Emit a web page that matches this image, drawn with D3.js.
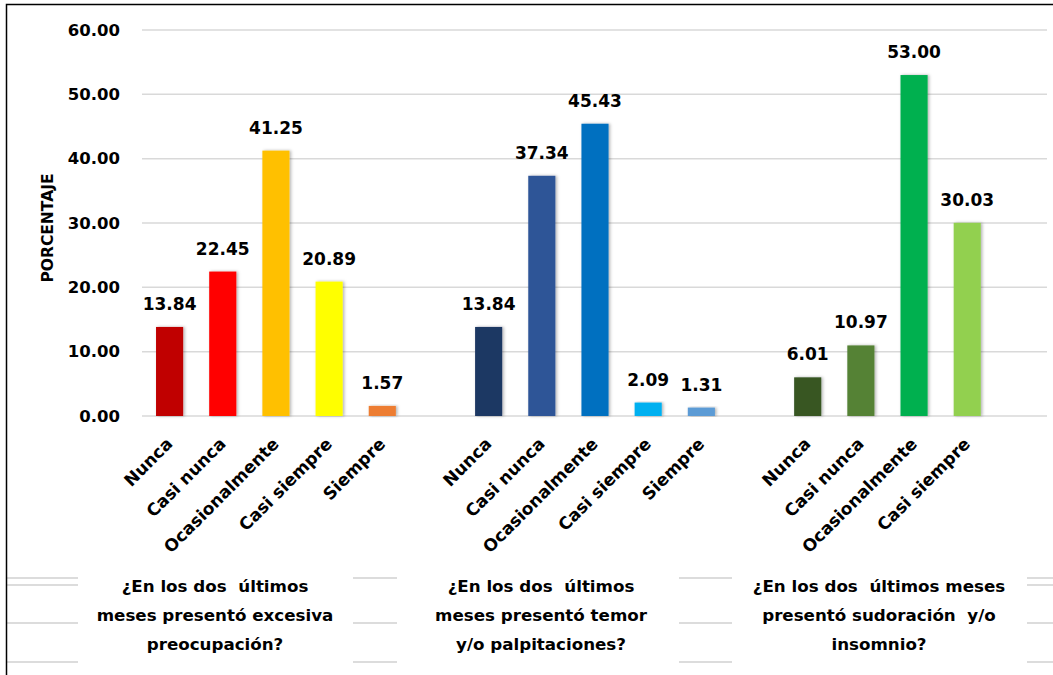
<!DOCTYPE html>
<head>
<meta charset="utf-8">
<script src="https://d3js.org/d3.v7.min.js"></script>
<style type="text/css">
	body { margin: 0; background: #fff; }
	svg { display: block; }
	text { font-family: "DejaVu Sans", sans-serif; font-weight: bold; fill: #000; }
</style>
</head>
<body>
<div id="chart"></div>
</body>
<script>

	var width = 1053;
	var height = 675;

	// data
	var answers1 = ["Nunca", "Casi nunca", "Ocasionalmente", "Casi siempre", "Siempre"];
	var values1 = [13.84, 22.45, 41.25, 20.89, 1.57];
	var colors1 = ["#C00000", "#FF0000", "#FFC000", "#FFFF00", "#ED7D31"];

	var answers2 = ["Nunca", "Casi nunca", "Ocasionalmente", "Casi siempre", "Siempre"];
	var values2 = [13.84, 37.34, 45.43, 2.09, 1.31];
	var colors2 = ["#1F3864", "#2F5597", "#0070C0", "#00B0F0", "#5B9BD5"];

	var answers3 = ["Nunca", "Casi nunca", "Ocasionalmente", "Casi siempre"];
	var values3 = [6.01, 10.97, 53.00, 30.03];
	var colors3 = ["#375623", "#548235", "#00B050", "#92D050"];

	var questions = [
		["¿En los dos  últimos", "meses presentó excesiva", "preocupación?"],
		["¿En los dos  últimos", "meses presentó temor", "y/o palpitaciones?"],
		["¿En los dos  últimos meses", "presentó sudoración  y/o", "insomnio?"]
	];
	var yTicks = [0, 10, 20, 30, 40, 50, 60];
	var yTitle = "PORCENTAJE";

	// build slots: each group, then an empty slot
	var groups = [
		{ answers: answers1, values: values1, colors: colors1 },
		{ answers: answers2, values: values2, colors: colors2 },
		{ answers: answers3, values: values3, colors: colors3 }
	];
	var slots = [];
	var bars = [];
	groups.forEach(function(g, gi) {
		g.answers.forEach(function(a, i) {
			var key = gi + "-" + i;
			slots.push(key);
			bars.push({ key: key, label: a, value: g.values[i], color: g.colors[i] });
		});
		slots.push("gap-" + gi);
	});

	var svg = d3.select("#chart").append("svg")
		.attr("width", width)
		.attr("height", height);

	var defs = svg.append("defs");
	var f = defs.append("filter").attr("id", "shadow")
		.attr("x", "-30%").attr("y", "-10%").attr("width", "160%").attr("height", "120%");
	f.append("feDropShadow").attr("dx", 1.5).attr("dy", 0).attr("stdDeviation", 1.5)
		.attr("flood-color", "#000").attr("flood-opacity", 0.3);

	var x = d3.scaleBand()
		.domain(slots)
		.range([143, 1047])
		.paddingInner(0.49)
		.paddingOuter(0.245);

	var y = d3.scaleLinear()
		.domain([0, 60])
		.range([416, 30]);

	// gridlines
	svg.append("g")
		.selectAll("line")
		.data(yTicks)
		.enter().append("line")
		.attr("x1", 142)
		.attr("x2", 1047)
		.attr("y1", d => y(d))
		.attr("y2", d => y(d))
		.attr("stroke", "#d9d9d9")
		.attr("stroke-width", 1.5);

	// y axis labels
	var yAxis = svg.append("g")
		.attr("transform", "translate(128,0)")
		.call(d3.axisLeft(y).tickValues(yTicks).tickSize(0).tickPadding(8).tickFormat(d3.format(".2f")));
	yAxis.select(".domain").remove();
	yAxis.selectAll("text")
		.style("font-family", "DejaVu Sans")
		.style("font-weight", "bold")
		.style("font-size", "16.5px")
		.attr("fill", "#000");

	svg.append("text")
		.attr("transform", "translate(53,228) rotate(-90)")
		.attr("text-anchor", "middle")
		.style("font-size", "15.5px")
		.text(yTitle);

	// bars
	svg.append("g")
		.selectAll("rect")
		.data(bars)
		.enter().append("rect")
		.attr("x", d => x(d.key))
		.attr("width", x.bandwidth())
		.attr("y", d => y(d.value))
		.attr("height", d => y(0) - y(d.value))
		.attr("fill", d => d.color)
		.attr("filter", "url(#shadow)");

	// value labels
	svg.append("g")
		.selectAll("text")
		.data(bars)
		.enter().append("text")
		.attr("x", d => x(d.key) + x.bandwidth() / 2)
		.attr("y", d => y(d.value) - 17)
		.attr("text-anchor", "middle")
		.style("font-size", "17px")
		.text(d => d.value.toFixed(2));

	// category labels
	svg.append("g")
		.selectAll("text")
		.data(bars)
		.enter().append("text")
		.attr("transform", d => "translate(" + (x(d.key) + x.bandwidth() / 2 + 4) + ",445) rotate(-45)")
		.attr("text-anchor", "end")
		.style("font-size", "17px")
		.text(d => d.label);

	// question labels
	var qx = [215, 541, 879];
	questions.forEach(function(lines, qi) {
		svg.append("text")
			.attr("text-anchor", "middle")
			.style("font-size", "16.7px")
			.style("white-space", "pre")
			.selectAll("tspan")
			.data(lines)
			.enter().append("tspan")
			.attr("x", qx[qi])
			.attr("y", (d, i) => 592 + i * 29)
			.text(d => d);
	});

	// separator lines of the category axis
	var sepX = [[7, 78], [353, 397], [679, 732], [1027, 1053]];
	var sepY = [578, 585, 623, 662];
	var seps = [];
	sepX.forEach(function(s) {
		sepY.forEach(function(yy, i) {
			if (i === 1 && s[0] > 300 && s[0] < 1000) return;
			seps.push({ x1: s[0], x2: s[1], y: yy });
		});
	});
	svg.append("g")
		.selectAll("line")
		.data(seps)
		.enter().append("line")
		.attr("x1", d => d.x1)
		.attr("x2", d => d.x2)
		.attr("y1", d => d.y)
		.attr("y2", d => d.y)
		.attr("stroke", "#d0d0d0")
		.attr("stroke-width", 1.5);

	// chart border
	svg.append("path")
		.attr("d", "M6.5,675 V4.5 H1053")
		.attr("fill", "none")
		.attr("stroke", "#000")
		.attr("stroke-width", 1.5);

</script>
